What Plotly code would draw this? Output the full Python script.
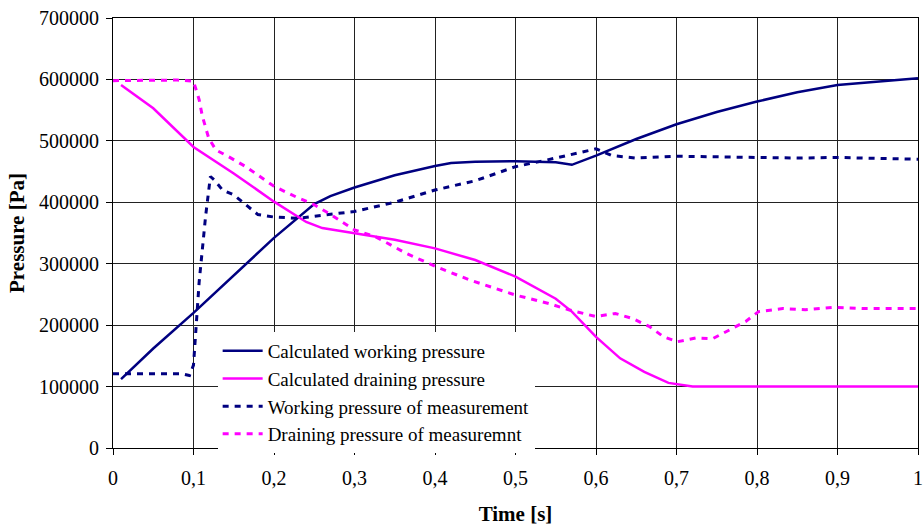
import plotly.graph_objects as go

# Calculated working pressure
cw_t = [0.01, 0.05, 0.1, 0.15, 0.2, 0.25, 0.27, 0.3, 0.35, 0.4, 0.42, 0.45, 0.5, 0.55, 0.57,
        0.6, 0.65, 0.7, 0.75, 0.8, 0.85, 0.9, 0.95, 1.0]
cw_p = [112000, 162000, 220000, 281000, 342000, 397000, 410000, 424000, 444000, 459000, 464000,
        466000, 467000, 465000, 461000, 476000, 503000, 527000, 547000, 564000, 579000, 591000,
        597000, 602000]

# Calculated draining pressure
cd_t = [0.01, 0.05, 0.1, 0.15, 0.2, 0.24, 0.26, 0.3, 0.35, 0.4, 0.45, 0.5, 0.55, 0.57, 0.6,
        0.63, 0.66, 0.69, 0.72, 0.8, 0.9, 1.0]
cd_p = [591000, 553000, 490000, 447000, 401000, 368000, 358000, 350000, 339000, 325000, 306000,
        279000, 243000, 222000, 181000, 146000, 124000, 106000, 100000, 100000, 100000, 100000]

# Working pressure of measurement
mw_t = [0, 0.05, 0.085, 0.095, 0.1, 0.107, 0.115, 0.121, 0.126, 0.136, 0.15, 0.165, 0.18, 0.2,
        0.23, 0.26, 0.3, 0.35, 0.4, 0.45, 0.5, 0.55, 0.6, 0.62, 0.65, 0.7, 0.75, 0.8, 0.85, 0.9,
        0.95, 1.0]
mw_p = [121000, 121000, 121000, 118000, 135000, 270000, 377000, 442000, 436000, 420000, 412000,
        396000, 380000, 376000, 374000, 379000, 385000, 400000, 420000, 435000, 458000, 472000,
        487000, 476000, 472000, 475000, 474000, 474000, 472000, 473000, 472000, 470000]

# Draining pressure of measurement
md_t = [0, 0.05, 0.08, 0.1, 0.107, 0.111, 0.119, 0.128, 0.144, 0.165, 0.185, 0.2, 0.227, 0.25,
        0.268, 0.285, 0.3, 0.326, 0.364, 0.4, 0.442, 0.5, 0.542, 0.566, 0.6, 0.624, 0.645, 0.666,
        0.684, 0.701, 0.724, 0.745, 0.765, 0.786, 0.802, 0.832, 0.86, 0.894, 0.935, 1.0]
md_p = [598000, 598000, 599000, 597000, 567000, 540000, 504000, 485000, 474000, 458000, 439000,
        426000, 409000, 396000, 382000, 367000, 355000, 344000, 317000, 296000, 274000, 249000,
        235000, 225000, 214000, 219000, 211000, 198000, 181000, 173000, 179000, 178000, 192000,
        206000, 222000, 227000, 225000, 229000, 227000, 227000]

x_ticks = [0, 0.1, 0.2, 0.3, 0.4, 0.5, 0.6, 0.7, 0.8, 0.9, 1]
y_ticks = [0, 100000, 200000, 300000, 400000, 500000, 600000, 700000]

NAVY = "#000080"
MAG = "#FF00FF"
DASH = "6px,6px"

fig = go.Figure()
fig.add_trace(go.Scatter(x=cw_t, y=cw_p, mode="lines", name="Calculated working pressure",
                         line=dict(color=NAVY, width=2.5)))
fig.add_trace(go.Scatter(x=cd_t, y=cd_p, mode="lines", name="Calculated draining pressure",
                         line=dict(color=MAG, width=2.5)))
fig.add_trace(go.Scatter(x=mw_t, y=mw_p, mode="lines", name="Working pressure of measurement",
                         line=dict(color=NAVY, width=3, dash=DASH)))
fig.add_trace(go.Scatter(x=md_t, y=md_p, mode="lines", name="Draining pressure of measuremnt",
                         line=dict(color=MAG, width=3, dash=DASH)))

font = "Liberation Serif"
tickfont = dict(family=font, size=20, color="black")
titlefont = dict(family=font, size=21, color="black")
fig.update_layout(
    width=924, height=528,
    margin=dict(l=113, r=6, t=18, b=80),
    paper_bgcolor="white", plot_bgcolor="white",
    separators=",.",
    font=dict(family=font, size=19, color="black"),
    legend=dict(x=0.130, y=0.27, xanchor="left", yanchor="top",
                bgcolor="white", borderwidth=0,
                font=dict(family=font, size=19, color="black"),
                itemwidth=40, tracegroupgap=0),
    showlegend=True,
)
fig.update_xaxes(range=[0, 1], tickvals=x_ticks, showgrid=True, gridcolor="#222", gridwidth=1,
                 showline=True, linecolor="black", linewidth=1, mirror=True,
                 ticks="outside", ticklen=6, tickcolor="black", ticklabelstandoff=6,
                 zeroline=False, tickfont=tickfont, automargin=False,
                 title=dict(text="<b>Time [s]</b>", font=titlefont, standoff=18))
fig.update_yaxes(range=[0, 700000], tickvals=y_ticks, tickformat="d", showgrid=True,
                 gridcolor="#222", gridwidth=1,
                 showline=True, linecolor="black", linewidth=1, mirror=True,
                 ticks="outside", ticklen=6, tickcolor="black", ticklabelstandoff=3,
                 zeroline=False, tickfont=tickfont, automargin=False,
                 title=dict(text="<b>Pressure [Pa]</b>", font=titlefont, standoff=8))

fig.write_html("out.html")
